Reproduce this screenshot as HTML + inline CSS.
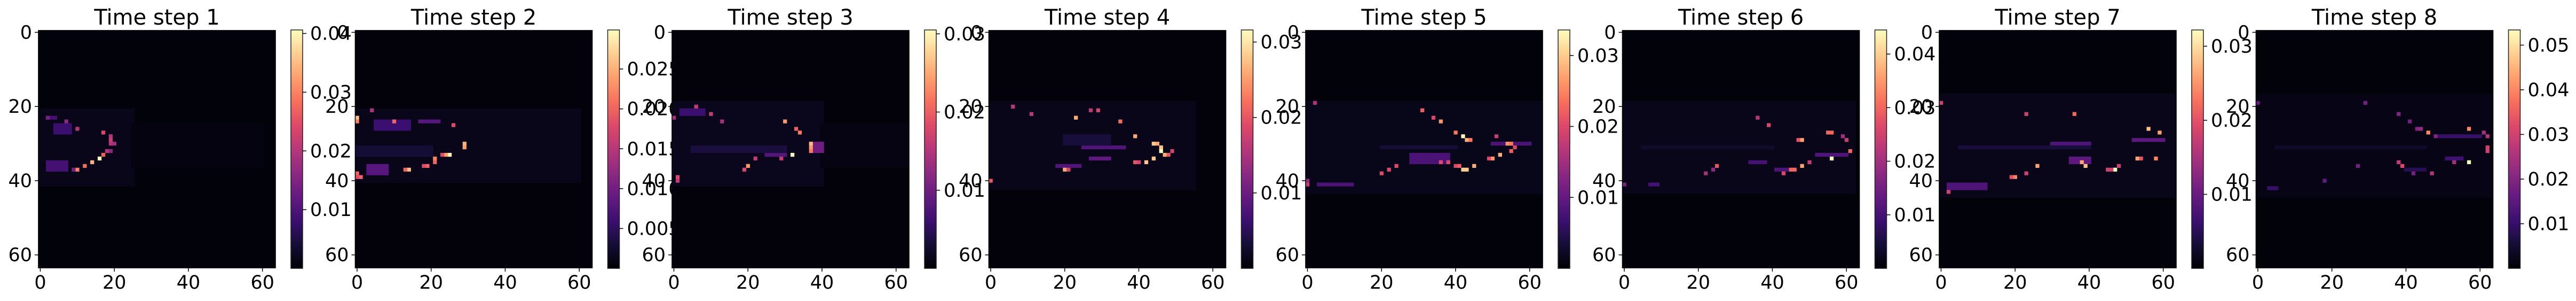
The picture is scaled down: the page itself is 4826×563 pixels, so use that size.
<!DOCTYPE html>
<html><head><meta charset="utf-8">
<style>
html,body{margin:0;padding:0;background:#fff;}
svg{display:block;}
text{font-family:"DejaVu Sans","Liberation Sans",sans-serif;fill:#000;}
</style></head>
<body>
<svg id="fig" width="4826" height="563" viewBox="0 0 4826 563" xmlns="http://www.w3.org/2000/svg">
<defs id="defs"></defs>
</svg>
<script>
// ---------- data ----------
const panelTitles = ["Time step 1","Time step 2","Time step 3","Time step 4","Time step 5","Time step 6","Time step 7","Time step 8"];
const axisTicks = [0,20,40,60];
const colorMax = [0.0406,0.0299,0.0305,0.0316,0.0336,0.0445,0.0322,0.0534];
const cbTicks = [
  [0.01,0.02,0.03,0.04],
  [0.005,0.010,0.015,0.020,0.025],
  [0.01,0.02,0.03],
  [0.01,0.02,0.03],
  [0.01,0.02,0.03],
  [0.01,0.02,0.03,0.04],
  [0.01,0.02,0.03],
  [0.01,0.02,0.03,0.04,0.05]
];
const cbTickLabels = [
  ["0.01","0.02","0.03","0.04"],
  ["0.005","0.010","0.015","0.020","0.025"],
  ["0.01","0.02","0.03"],
  ["0.01","0.02","0.03"],
  ["0.01","0.02","0.03"],
  ["0.01","0.02","0.03","0.04"],
  ["0.01","0.02","0.03"],
  ["0.01","0.02","0.03","0.04","0.05"]
];
const baseValue = [0.0005,0.0004,0.0004,0.0004,0.0004,0.0005,0.0004,0.0006];
// dim regions: [rowStart,rowEnd,colStart,colEnd,value]
const dimRegions = [
  [[21,41,0,25,0.0018],[25,36,25,60,0.0010],[25,27,4,8,0.008],[35,37,2,7,0.009],[23,23,2,4,0.009]],
  [[21,40,0,60,0.0013],[24,26,5,14,0.006],[24,24,17,22,0.008],[36,38,3,8,0.008],[31,33,0,20,0.003]],
  [[19,41,0,40,0.0015],[25,36,40,63,0.0009],[33,33,25,30,0.008],[21,22,2,8,0.006],[30,32,38,40,0.010],[31,32,5,30,0.0035]],
  [[19,42,0,55,0.0014],[31,31,25,36,0.008],[34,34,27,32,0.009],[36,36,18,24,0.008],[28,30,20,32,0.0035]],
  [[19,43,0,63,0.0014],[33,35,28,38,0.008],[41,41,3,12,0.008],[30,30,50,60,0.008],[31,31,20,40,0.0035]],
  [[19,43,0,62,0.0018],[33,33,52,60,0.011],[35,35,34,38,0.010],[37,37,41,44,0.011],[41,41,7,9,0.010],[31,31,5,40,0.0035]],
  [[17,44,0,63,0.0013],[30,30,30,40,0.008],[34,35,35,40,0.009],[41,42,2,12,0.008],[29,29,52,60,0.009],[31,31,5,40,0.0035]],
  [[17,44,0,63,0.0018],[28,28,49,60,0.010],[34,34,51,55,0.011],[37,37,40,45,0.008],[42,42,3,5,0.010],[31,31,5,45,0.004]]
];
// notable cells: [row,col,value]
const brightCells = [
  [[34,16,0.040],[35,14,0.034],[36,12,0.028],[37,10,0.030],[33,17,0.027],[32,18,0.020],[29,19,0.022],[30,20,0.018],[30,19,0.020],[28,19,0.020],[27,17,0.024],[26,10,0.020],[24,7,0.016],[23,2,0.014],[37,9,0.014],[32,19,0.016]],
  [[33,25,0.030],[33,24,0.024],[33,23,0.018],[30,29,0.025],[31,29,0.024],[34,21,0.022],[35,21,0.020],[36,19,0.020],[36,18,0.018],[37,14,0.026],[37,13,0.020],[23,0,0.026],[24,0,0.022],[38,0,0.020],[39,1,0.020],[39,0,0.018],[24,10,0.020],[25,26,0.018],[21,4,0.014]],
  [[33,32,0.0305],[30,37,0.026],[31,37,0.024],[32,37,0.022],[24,30,0.024],[26,33,0.020],[27,34,0.022],[36,20,0.024],[37,19,0.018],[34,22,0.016],[39,1,0.018],[40,1,0.016],[23,0,0.014],[22,10,0.016],[20,6,0.016],[34,29,0.016],[24,13,0.014]],
  [[32,46,0.0316],[31,46,0.028],[30,44,0.028],[30,45,0.026],[34,44,0.028],[35,42,0.028],[33,47,0.026],[33,48,0.020],[32,49,0.018],[28,39,0.026],[24,35,0.022],[23,23,0.026],[37,20,0.026],[37,21,0.018],[40,0,0.020],[21,29,0.018],[21,27,0.016],[35,39,0.020],[35,40,0.018],[20,6,0.016],[22,11,0.016]],
  [[28,42,0.0336],[29,43,0.028],[29,44,0.024],[27,40,0.024],[24,36,0.026],[23,34,0.020],[21,31,0.022],[30,54,0.026],[30,55,0.024],[32,55,0.022],[31,56,0.020],[33,52,0.028],[34,50,0.026],[34,49,0.020],[36,45,0.028],[37,42,0.030],[37,43,0.030],[36,41,0.022],[36,40,0.020],[35,36,0.020],[35,38,0.020],[38,20,0.020],[37,22,0.020],[36,24,0.020],[41,0,0.018],[40,0,0.014],[28,51,0.018],[19,2,0.016]],
  [[34,56,0.0445],[29,48,0.036],[29,47,0.028],[36,48,0.036],[37,45,0.030],[37,46,0.030],[38,43,0.026],[27,55,0.030],[27,56,0.030],[32,61,0.030],[29,60,0.024],[28,59,0.020],[25,39,0.026],[23,36,0.022],[36,25,0.028],[37,24,0.018],[38,22,0.020],[35,50,0.024],[41,0,0.016]],
  [[37,47,0.0322],[36,39,0.028],[35,38,0.026],[36,26,0.026],[26,56,0.028],[27,59,0.026],[34,53,0.026],[34,58,0.024],[34,54,0.020],[39,20,0.024],[39,19,0.020],[22,36,0.022],[22,23,0.018],[19,0,0.018],[43,2,0.018],[37,45,0.018],[37,46,0.018],[36,48,0.018],[38,23,0.018]],
  [[35,57,0.0534],[26,57,0.040],[27,46,0.040],[31,62,0.030],[32,62,0.030],[28,62,0.026],[27,61,0.024],[36,39,0.032],[35,38,0.028],[38,47,0.026],[35,53,0.024],[26,44,0.022],[26,43,0.020],[24,41,0.018],[22,38,0.020],[36,27,0.018],[28,48,0.020],[19,29,0.018],[19,0,0.016],[38,42,0.018],[40,18,0.016]]
];
// ---------- drawing ----------
const NS="http://www.w3.org/2000/svg";
const svg=document.getElementById('fig');
const defs=document.getElementById('defs');
const magmaStops=[[0,[0,0,4]],[0.1,[20,14,54]],[0.2,[59,15,112]],[0.3,[100,26,128]],[0.4,[140,41,129]],[0.5,[183,55,121]],[0.6,[222,73,104]],[0.7,[247,112,92]],[0.8,[254,159,109]],[0.9,[254,207,146]],[1,[252,253,191]]];
function magma(t){t=Math.max(0,Math.min(1,t));for(let i=1;i<magmaStops.length;i++){if(t<=magmaStops[i][0]){const a=magmaStops[i-1],b=magmaStops[i];const f=(t-a[0])/(b[0]-a[0]);const c=a[1].map((v,k)=>Math.round(v+(b[1][k]-v)*f));return `rgb(${c[0]},${c[1]},${c[2]})`;}}return 'rgb(252,253,191)';}
function mk(tag,attrs,parent){const e=document.createElementNS(NS,tag);for(const k in attrs)e.setAttribute(k,attrs[k]);(parent||svg).appendChild(e);return e;}
const grad=mk('linearGradient',{id:'magmaGrad',x1:'0',y1:'1',x2:'0',y2:'0'},defs);
for(let i=0;i<=20;i++){mk('stop',{offset:(i/20),'stop-color':magma(i/20)},grad);}

const N=64, S=444, TOP=57, PITCH=593.5, LEFT0=72;
const cell=S/N;
const FS=35;
for(let p=0;p<8;p++){
  const L=LEFT0+p*PITCH;
  const g=mk('g',{});
  
  
  const xs=c=>L+c*cell, ys=r=>TOP+r*cell;
  const col=v=>magma(v/colorMax[p]);
  const bg=mk('rect',{x:L,y:TOP,width:S,height:S,fill:col(baseValue[p])},g);
  
  
  dimRegions[p].forEach(d=>{
    const r=mk('rect',{x:xs(d[2]),y:ys(d[0]),width:(d[3]-d[2]+1)*cell+0.3,height:(d[1]-d[0]+1)*cell+0.3,fill:col(d[4])},g);
    
    
  });
  brightCells[p].forEach(d=>{
    const r=mk('rect',{x:xs(d[1]),y:ys(d[0]),width:cell+0.3,height:cell+0.3,fill:col(d[2])},g);
    
    
  });
  const fr=mk('rect',{x:L,y:TOP,width:S,height:S,fill:'none',stroke:'#000','stroke-width':1.6},g);
  
  
  const t=mk('text',{x:L+S/2,y:46,'font-size':40,'text-anchor':'middle'},g);
  t.textContent=panelTitles[p];
  
  
  axisTicks.forEach(v=>{
    const x=xs(v+0.5), y=ys(v+0.5);
    mk('line',{x1:x,y1:TOP+S,x2:x,y2:TOP+S+7,stroke:'#000','stroke-width':1.5},g);
    const tx=mk('text',{x:x,y:540,'font-size':FS,'text-anchor':'middle'},g);
    tx.textContent=v;
    
    
    mk('line',{x1:L-7,y1:y,x2:L,y2:y,stroke:'#000','stroke-width':1.5},g);
    const ty=mk('text',{x:L-12,y:y+12,'font-size':FS,'text-anchor':'end'},g);
    ty.textContent=v;
    
    
  });
  const cx=L+473, cy0=56, cy1=502, cw=22;
  const cb=mk('rect',{x:cx,y:cy0,width:cw,height:cy1-cy0,fill:'url(#magmaGrad)',stroke:'#222','stroke-width':1.5},g);
  
  
  const cbY=v=>cy1-(v/colorMax[p])*(cy1-cy0);
  cbTicks[p].forEach((v,i)=>{
    const y=cbY(v);
    mk('line',{x1:cx+cw,y1:y,x2:cx+cw+7,y2:y,stroke:'#000','stroke-width':1.5},g);
    const tl=mk('text',{x:cx+cw+14,y:y+12,'font-size':FS},g);
    tl.textContent=cbTickLabels[p][i];
    
    
  });
}
</script>
</body></html>
